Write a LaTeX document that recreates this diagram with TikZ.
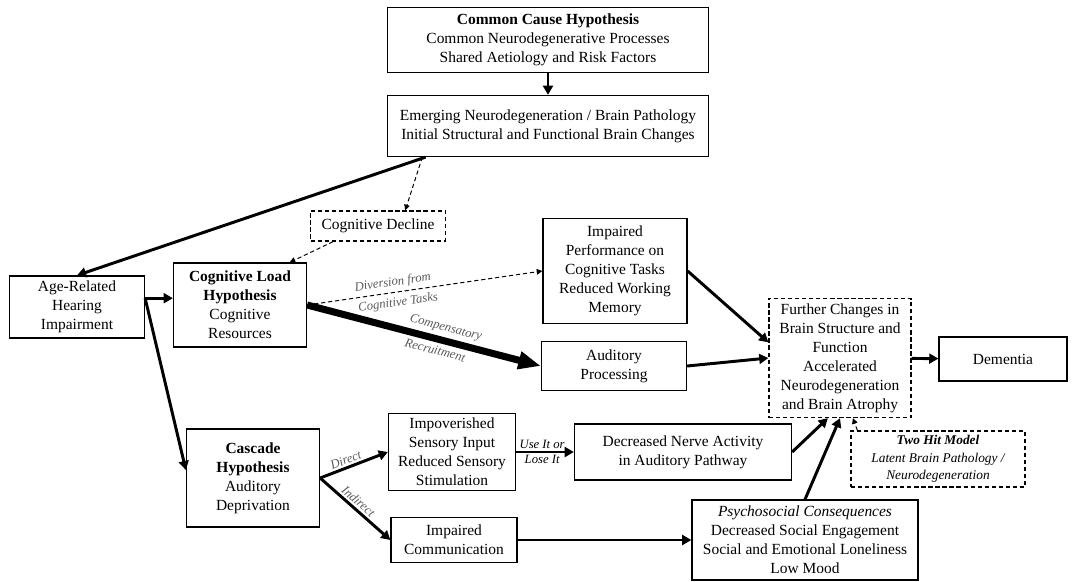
\documentclass[tikz,border=0pt]{standalone}
\usepackage{fontspec}
\setmainfont{Liberation Serif}
\usetikzlibrary{arrows.meta}
\usetikzlibrary{calc}

\begin{document}
\begin{tikzpicture}[x=0.025cm, y=-0.025cm,
    hbox/.style={draw, line width=0.9pt, align=center, inner sep=1pt, font=\fontsize{11}{13.5}\selectfont},
    dbox/.style={hbox, dash pattern=on 3pt off 2pt},
    wh/.style 2 args={minimum width=#1*0.025cm, minimum height=#2*0.025cm},
    arr/.style={line width=2.1pt, -{Triangle[length=6.5pt,width=7pt]}},
    darr/.style={line width=0.7pt, dash pattern=on 3pt off 2pt, -{Triangle[length=4pt,width=4pt]}},
    lbl/.style={font=\fontsize{9}{10}\selectfont\itshape, text=black!65, sloped, inner sep=1.5pt}]
          \useasboundingbox (0,0) rectangle (1077,581);

          \node[hbox, wh={321}{65}] (ccause) at (548,40) {\textbf{Common Cause Hypothesis}\\Common Neurodegenerative Processes\\Shared Aetiology and Risk Factors};
          \node[hbox, wh={321}{61}] (emerg) at (548,126) {Emerging Neurodegeneration / Brain Pathology\\Initial Structural and Functional Brain Changes};
          \node[dbox, wh={135}{30}] (cogdec) at (378,226) {Cognitive Decline};
          \node[hbox, wh={135}{62}] (arhi) at (77,307) {Age-Related\\Hearing\\Impairment};
          \node[hbox, wh={133}{84}] (cogload) at (240,305) {\textbf{Cognitive Load}\\\textbf{Hypothesis}\\Cognitive\\Resources};
          \node[hbox, wh={144}{105}] (impperf) at (615,271) {Impaired\\Performance on\\Cognitive Tasks\\Reduced Working\\Memory};
          \node[hbox, wh={145}{49}] (audproc) at (614,366) {Auditory\\Processing};
          \node[dbox, wh={142}{119}] (further) at (840,358) {Further Changes in\\Brain Structure and\\Function\\Accelerated\\Neurodegeneration\\and Brain Atrophy};
          \node[hbox, wh={128}{44}] (dementia) at (1003,359) {Dementia};
          \node[dbox, wh={174}{56}, font=\fontsize{9.5}{12.5}\selectfont\itshape] (twohit) at (938,459) {\textbf{Two Hit Model}\\Latent Brain Pathology /\\Neurodegeneration};
          \node[hbox, wh={133}{98}] (cascade) at (253,478) {\textbf{Cascade}\\\textbf{Hypothesis}\\Auditory\\Deprivation};
          \node[hbox, wh={127}{77}] (impsens) at (452,452) {Impoverished\\Sensory Input\\Reduced Sensory\\Stimulation};
          \node[hbox, wh={217}{56}] (nerve) at (683,452) {Decreased Nerve Activity\\in Auditory Pathway};
          \node[hbox, wh={126}{45}] (impcomm) at (454,540) {Impaired\\Communication};
          \node[hbox, wh={226}{80}] (psych) at (805,540) {\textit{Psychosocial Consequences}\\Decreased Social Engagement\\Social and Emotional Loneliness\\Low Mood};

          % common cause branch
          \draw[arr] (ccause) -- (emerg);
          \draw[arr] ($(emerg.south west)!0.12!(emerg.south east)$) -- (arhi.north);
          \draw[darr] ($(emerg.south west)!0.11!(emerg.south east)$) -- ($(cogdec.north west)!0.7!(cogdec.north east)$);
          \draw[darr] ($(cogdec.south west)!0.17!(cogdec.south east)$) -- ($(cogload.north west)!0.87!(cogload.north east)$);

          % hearing impairment splits
          \coordinate (fork) at ([yshift=0.22cm]arhi.east);
          \draw[arr] (fork) -- (fork -| cogload.west);
          \draw[arr] (fork) -- ($(cascade.north west)!0.42!(cascade.south west)$);

          % cognitive load
          \draw[darr] (cogload.east) -- node[lbl, above=1pt, pos=0.37] {Diversion from} node[lbl, below=2pt, pos=0.38] {Cognitive Tasks} (impperf.west);
          \draw[line width=5pt, -{Triangle[length=16pt,width=12pt]}] (cogload.east) -- node[lbl, above=1pt, pos=0.58] {Compensatory} node[lbl, below=1pt, pos=0.56] {Recruitment} (audproc.west);
          \draw[arr] (impperf.east) -- ($(further.north west)!0.37!(further.south west)$);
          \draw[arr] (audproc.east) -- (further.west);
          \draw[arr] (further) -- (dementia);

          % cascade
          \draw[arr] (cascade.east) -- node[lbl, above, pos=0.42] {Direct} (impsens.west);
          \draw[arr] (cascade.east) -- node[lbl, above, pos=0.47] {Indirect} (impcomm.west);
          \draw[arr] (impsens) -- node[lbl, text=black, above, pos=0.45] {Use It or} node[lbl, text=black, below, pos=0.45] {Lose It} (nerve);
          \draw[arr] (impcomm) -- (psych);
          \draw[arr] (nerve.east) -- ($(further.south west)!0.415!(further.south east)$);
          \draw[arr] (psych.north) -- (further.south);
          \draw[darr] ($(twohit.north west)!0.04!(twohit.north east)$) -- ($(further.south west)!0.59!(further.south east)$);
        \end{tikzpicture}
\end{document}
